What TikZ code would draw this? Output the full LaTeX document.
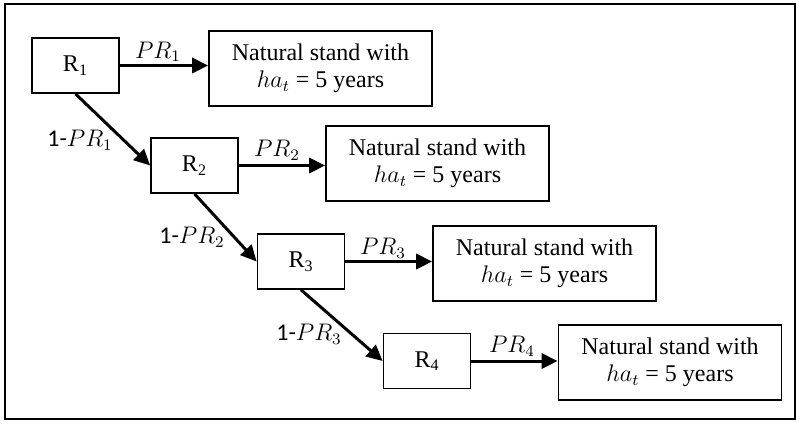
\documentclass[tikz,border=0pt]{standalone}
\usepackage{fontspec}
\setmainfont{Liberation Serif}
\newfontfamily\lblfont{Carlito}
\usepackage{tikz}
\usetikzlibrary{arrows.meta}

\begin{document}
\begin{tikzpicture}[x=0.5pt, y=-0.5pt,
  every node/.style={font=\fontsize{12}{13.5}\selectfont},
  rbox/.style={draw, line width=0.85pt, minimum width=43.5pt, minimum height=27.5pt, inner sep=0pt},
  nbox/.style={draw, line width=0.85pt, minimum width=111.5pt, minimum height=37.5pt, inner sep=0pt, align=center},
  link/.style={line width=1.5pt, -{Triangle[length=8pt, width=7.5pt]}}]
	\useasboundingbox (0, 0) rectangle (797, 423);
	\draw [line width=1pt] (5, 4) rectangle (795, 419);
	% stages
	\node [rbox] (r1) at (75.5, 65.5) {R\textsubscript{1}};
	\node [rbox] (r2) at (194.5, 165.5) {R\textsubscript{2}};
	\node [rbox] (r3) at (301, 261.5) {R\textsubscript{3}};
	\node [rbox] (r4) at (427, 361) {R\textsubscript{4}};
	% outcomes
	\node [nbox] (n1) at (320.5, 68.5) {Natural stand with\\$ha_t$ = 5 years};
	\node [nbox] (n2) at (437.5, 163.5) {Natural stand with\\$ha_t$ = 5 years};
	\node [nbox] (n3) at (544.5, 263.5) {Natural stand with\\$ha_t$ = 5 years};
	\node [nbox] (n4) at (670, 362.5) {Natural stand with\\$ha_t$ = 5 years};
	% arrows
	\draw [link] (r1.east) -- (r1.east -| n1.west);
	\draw [link] (r2.east) -- (r2.east -| n2.west);
	\draw [link] (r3.east) -- (r3.east -| n3.west);
	\draw [link] (r4.east) -- (r4.east -| n4.west);
	\draw [link] (r1.south) -- (r2.west);
	\draw [link] (r2.south) -- (r3.west);
	\draw [link] (r3.south) -- (r4.west);
	% probabilities
	\node (p1) at (158, 52) {$PR_1$};
	\node (p2) at (277, 150) {$PR_2$};
	\node (p3) at (383, 248) {$PR_3$};
	\node (p4) at (512, 346) {$PR_4$};
	\node (q1) at (80, 140) {\lblfont 1-$PR_1$};
	\node (q2) at (192, 237) {\lblfont 1-$PR_2$};
	\node (q3) at (309, 334) {\lblfont 1-$PR_3$};
\end{tikzpicture}
\end{document}
